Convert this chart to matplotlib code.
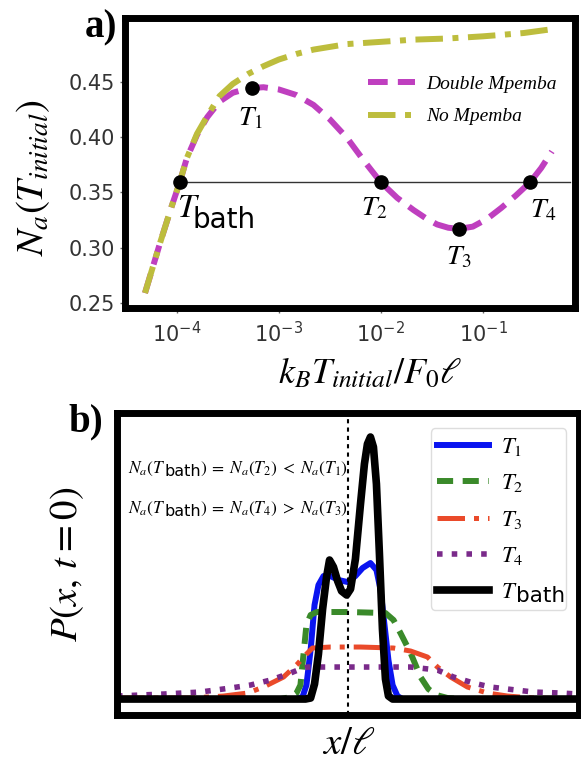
import numpy as np
import matplotlib.pyplot as plt
from matplotlib.ticker import NullLocator

plt.rcParams['mathtext.fontset'] = 'stix'
plt.rcParams['font.family'] = ['DejaVu Sans']

# ---- panel a): N_a vs log10(k_B T_initial / F_0 l) ----
logT_double = [-4.31, -4.16, -4.05, -3.97, -3.90, -3.80, -3.70, -3.58, -3.45, -3.30,
               -3.15, -3.00, -2.83, -2.66, -2.50, -2.33, -2.17, -2.00, -1.84, -1.68,
               -1.55, -1.45, -1.34, -1.235, -1.10, -0.96, -0.82, -0.68, -0.54, -0.43, -0.325]
Na_double = [0.259, 0.305, 0.337, 0.359, 0.381, 0.402, 0.418, 0.432, 0.440, 0.444,
             0.445, 0.443, 0.438, 0.429, 0.416, 0.399, 0.379, 0.359, 0.345, 0.334,
             0.326, 0.321, 0.318, 0.317, 0.319, 0.326, 0.336, 0.347, 0.359, 0.372, 0.387]

logT_none = [-4.31, -4.16, -4.05, -3.97, -3.90, -3.80, -3.70, -3.58, -3.45, -3.30,
             -3.15, -3.00, -2.83, -2.66, -2.33, -2.00, -1.68, -1.35, -1.00, -0.86, -0.60, -0.36]
Na_none = [0.259, 0.305, 0.337, 0.359, 0.381, 0.403, 0.419, 0.437, 0.448, 0.457,
           0.464, 0.470, 0.475, 0.479, 0.484, 0.486, 0.488, 0.489, 0.491, 0.492, 0.494, 0.497]

Na_bath = 0.359
pt_names = ['1', '2', '3', '4']
pt_logT = [-3.26, -2.00, -1.235, -0.54]
pt_Na = [0.444, 0.359, 0.317, 0.359]
bath_logT = -3.97

# ---- panel b): P(x, t=0) ----
x_T1 = [-1.0, -0.227, -0.197, -0.180, -0.162, -0.145, -0.128, -0.106, -0.076, -0.041, -0.002,
        0.032, 0.063, 0.097, 0.123, 0.141, 0.158, 0.175, 0.193, 0.214, 0.236, 1.0]
P_T1 = [0, 0, 0.02, 0.14, 0.49, 0.94, 1.14, 1.23, 1.23, 1.19, 1.17,
        1.23, 1.31, 1.36, 1.29, 1.09, 0.74, 0.39, 0.14, 0.03, 0, 0]
x_T2 = [-1.0, -0.292, -0.249, -0.223, -0.206, -0.193, -0.180, -0.162, -0.136, 0.0, 0.162,
        0.197, 0.227, 0.271, 0.314, 0.348, 0.383, 0.431, 0.487, 1.0]
P_T2 = [0, 0, 0.02, 0.06, 0.14, 0.44, 0.74, 0.84, 0.87, 0.87, 0.86,
        0.79, 0.66, 0.46, 0.22, 0.10, 0.04, 0.01, 0, 0]
x_T3 = [-1.0, -0.682, -0.539, -0.435, -0.366, -0.279, -0.219, -0.184, -0.154, -0.076, 0.054,
        0.197, 0.271, 0.344, 0.387, 0.444, 0.517, 0.604, 0.690, 0.803, 1.0]
P_T3 = [0.01, 0.01, 0.03, 0.06, 0.12, 0.22, 0.35, 0.44, 0.51, 0.52, 0.52,
        0.51, 0.48, 0.42, 0.32, 0.22, 0.12, 0.06, 0.03, 0.01, 0]
x_T4 = [-1.0, -0.798, -0.639, -0.509, -0.422, -0.335, -0.249, -0.206, -0.175, 0.0, 0.271,
        0.387, 0.457, 0.543, 0.617, 0.690, 0.803, 0.920, 1.0]
P_T4 = [0.03, 0.05, 0.07, 0.11, 0.14, 0.19, 0.26, 0.30, 0.32, 0.32, 0.32,
        0.29, 0.22, 0.16, 0.12, 0.10, 0.07, 0.06, 0.05]
x_bath = [-1.0, -0.184, -0.162, -0.145, -0.128, -0.110, -0.093, -0.080, -0.063, -0.045, -0.028,
          -0.006, 0.011, 0.032, 0.054, 0.071, 0.084, 0.097, 0.110, 0.123, 0.136, 0.149,
          0.162, 0.175, 0.193, 1.0]
P_bath = [0, 0, 0.01, 0.15, 0.45, 0.90, 1.22, 1.39, 1.32, 1.18, 1.08,
          1.04, 1.10, 1.40, 1.95, 2.35, 2.55, 2.62, 2.52, 2.15, 1.45, 0.70,
          0.20, 0.03, 0, 0]

note_lines = [(r'$N_a(T$', r'$)\;=\;N_a(T_2)\;<\;N_a(T_1)$'),
              (r'$N_a(T$', r'$)\;=\;N_a(T_4)\;>\;N_a(T_3)$')]

fig = plt.figure(figsize=(5.81, 7.61), dpi=100)
ax = fig.add_axes([0.2151, 0.5953, 0.7746, 0.3817])
ax2 = fig.add_axes([0.2014, 0.0604, 0.7952, 0.3969])
renderer = fig.canvas.get_renderer()


def chain_text(a, xy, pieces):
    # lay text pieces side by side, each (text, size, dx tweak, dy in points)
    dx = 0
    for s, size, tweak, dy in pieces:
        dx += tweak
        t = a.annotate(s, xy, xycoords='axes fraction', xytext=(dx, dy),
                       textcoords='offset points', fontsize=size,
                       ha='left', va='baseline')
        dx += t.get_window_extent(renderer).width * 72 / fig.dpi


# panel a
ax.plot(10 ** np.array(logT_double), Na_double, color='#bf3fbf', lw=4.3,
        dashes=(3.3, 1.7), label='Double Mpemba', zorder=2)
ax.plot(10 ** np.array(logT_none), Na_none, color='#bdbd3d', lw=4.3,
        dashes=(4.6, 1.6, 1, 1.6), label='No Mpemba', zorder=2)
ax.plot([10 ** bath_logT, 10 ** -0.145], [Na_bath, Na_bath], color='#333333', lw=1.0, zorder=1)
ax.plot(10 ** np.array([bath_logT] + pt_logT), [Na_bath] + pt_Na, 'o', color='black',
        ms=9.5, zorder=4)

offsets = [(-1.4, -21), (-5, -18), (0, -20), (9.4, -19.4)]
for name, lx, ly, off in zip(pt_names, pt_logT, pt_Na, offsets):
    ax.annotate(f'$T_{name}$', (10 ** lx, ly), xytext=off, textcoords='offset points',
                ha='center', va='center', fontsize=20)
ax.annotate('$T$', (10 ** bath_logT, Na_bath), xytext=(-2.2, -25), textcoords='offset points',
            ha='left', va='baseline', fontsize=24)
ax.annotate('bath', (10 ** bath_logT, Na_bath), xytext=(9.0, -32.5), textcoords='offset points',
            ha='left', va='baseline', fontsize=20)

ax.set_xscale('log')
ax.set_xlim(10 ** -4.506, 10 ** -0.099)
ax.set_ylim(0.2455, 0.508)
ax.set_yticks([0.25, 0.30, 0.35, 0.40, 0.45])
ax.set_xticks([1e-4, 1e-3, 1e-2, 1e-1])
ax.xaxis.set_minor_locator(NullLocator())
ax.tick_params(labelsize=15, labelcolor='#333333', color='#666666', length=3.5, width=1)
ax.tick_params(axis='x', pad=6)

ax.legend(loc='upper left', bbox_to_anchor=(0.54, 0.80), frameon=False,
          prop=dict(family='Liberation Serif', style='italic', size=14),
          handlelength=2.4, handletextpad=0.6, labelspacing=0.75, borderpad=0, borderaxespad=0)

ax.set_ylabel(r'$N_a(T_{initial})$', fontsize=28)
ax.yaxis.set_label_coords(-0.205, 0.45)
ax.yaxis.label.set_va('center')
ax.set_xlabel(r'$k_BT_{initial}/F_0\ell$', fontsize=26)
ax.xaxis.set_label_coords(0.544, -0.224)
ax.xaxis.label.set_va('center')

# panel b
ax2.axvline(0, color='black', lw=1.5, ls=(0, (2, 2)), zorder=6)
ax2.plot(x_T1, P_T1, color='#0a14f0', lw=4.3, label='$T_1$')
ax2.plot(x_T2, P_T2, color='#3a8a2a', lw=4.3, dashes=(2.7, 1.6), label='$T_2$')
ax2.plot(x_T3, P_T3, color='#ea4a2a', lw=3.6, dashes=(5.5, 1.8, 1, 1.8), label='$T_3$')
ax2.plot(x_T4, P_T4, color='#7a2a8a', lw=4.0, ls=':', label='$T_4$')
ax2.plot(x_bath, P_bath, color='black', lw=5.5, label='$T$' + '\u00a0' * 7)
ax2.set_xlim(-1, 1)
ax2.set_ylim(-0.16, 2.86)
ax2.set_xticks([])
ax2.set_yticks([])

leg = ax2.legend(loc='upper right', bbox_to_anchor=(0.972, 0.95), borderaxespad=0,
                 fontsize=16.5, handlelength=2.27, handletextpad=0.5, labelspacing=0.58,
                 borderpad=0.3, fancybox=True, edgecolor='#dddddd', framealpha=1)
leg.get_frame().set_linewidth(1.0)

for (head, tail), yy in zip(note_lines, [0.801, 0.669]):
    chain_text(ax2, (0.024, yy), [(head, 12.5, 0, 0),
                                  ('bath', 11.5, -1.2, -2),
                                  (tail, 12.5, -0.6, 0)])

ax2.set_ylabel(r'$P(x,\,t=0)$', fontsize=28)
ax2.yaxis.set_label_coords(-0.108, 0.5)
ax2.yaxis.label.set_va('center')
ax2.set_xlabel(r'$x/\ell$', fontsize=28)
ax2.xaxis.set_label_coords(0.502, -0.093)
ax2.xaxis.label.set_va('center')

for a in (ax, ax2):
    for s in a.spines.values():
        s.set_linewidth(5)

fig.text(85 / 581, 1 - 37 / 761, 'a)', family='Liberation Serif', weight='bold', fontsize=28)
fig.text(68 / 581, 1 - 431 / 761, 'b)', family='Liberation Serif', weight='bold', fontsize=28)

# "bath" after the T of the last legend entry, set slightly low like a subscript
fig.canvas.draw()
tmp = fig.text(0, 0, '$T$', fontsize=16.5)
t_width = tmp.get_window_extent(renderer).width
tmp.remove()
bb = leg.get_texts()[-1].get_window_extent(renderer)
fig.text((bb.x0 + t_width - 1) / fig.bbox.width, (bb.y0 - 3) / fig.bbox.height, 'bath',
         fontsize=15.5, ha='left', va='bottom')

fig.savefig('out.png', dpi=100)
